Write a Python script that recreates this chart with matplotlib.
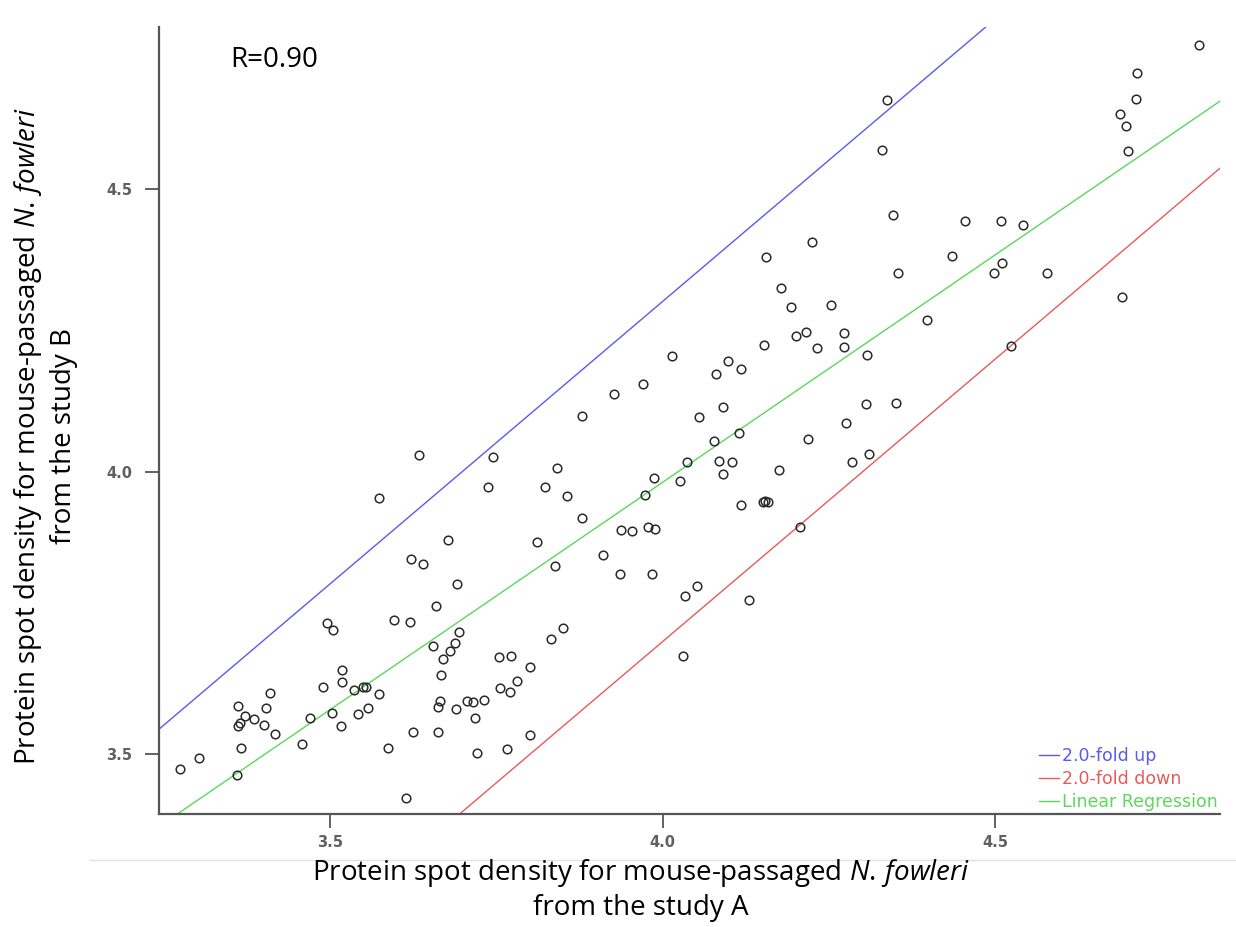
import numpy as np
import matplotlib
matplotlib.use('Agg')
import matplotlib.pyplot as plt
from matplotlib.lines import Line2D

plt.rcParams['mathtext.fontset'] = 'custom'
plt.rcParams['mathtext.rm'] = 'Open Sans'
plt.rcParams['mathtext.it'] = 'Open Sans:italic'

# Log10 protein spot densities (study A on x, study B on y)
study_a = [3.274, 3.303, 3.360, 3.366, 3.362, 3.372, 3.386, 3.362, 3.365, 3.401,
           3.404, 3.410, 3.417, 3.458, 3.470, 3.489, 3.495, 3.505, 3.518, 3.518,
           3.503, 3.517, 3.536, 3.550, 3.554, 3.542, 3.557, 3.574, 3.587, 3.596,
           3.620, 3.614, 3.625, 3.659, 3.655, 3.670, 3.667, 3.665, 3.662, 3.689,
           3.662, 3.691, 3.694, 3.688, 3.680, 3.718, 3.721, 3.732, 3.756, 3.771,
           3.754, 3.772, 3.781, 3.801, 3.766, 3.801, 3.832, 3.850, 3.706, 3.715,
           3.634, 3.574, 3.622, 3.640, 3.677, 3.745, 3.738, 3.823, 3.841, 3.856,
           3.879, 3.879, 3.811, 3.838, 3.911, 3.927, 3.971, 3.987, 3.974, 3.938,
           3.954, 3.978, 3.989, 3.936, 3.984, 4.031, 4.034, 4.052, 4.130, 4.207,
           4.014, 4.037, 4.026, 4.085, 4.105, 4.091, 4.118, 4.151, 4.159, 4.154,
           4.055, 4.091, 4.115, 4.077, 4.219, 4.175, 4.080, 4.098, 4.118, 4.153,
           4.201, 4.216, 4.273, 4.232, 4.273, 4.308, 4.178, 4.193, 4.253, 4.156,
           4.225, 4.306, 4.351, 4.276, 4.285, 4.311, 4.354, 4.435, 4.398, 4.347,
           4.330, 4.338, 4.455, 4.509, 4.542, 4.511, 4.498, 4.578, 4.524, 4.691,
           4.700, 4.697, 4.688, 4.712, 4.714, 4.807]
study_b = [3.473, 3.493, 3.463, 3.511, 3.585, 3.567, 3.562, 3.550, 3.555, 3.551,
           3.581, 3.608, 3.535, 3.518, 3.564, 3.619, 3.732, 3.719, 3.649, 3.627,
           3.573, 3.550, 3.613, 3.619, 3.619, 3.571, 3.581, 3.606, 3.511, 3.737,
           3.734, 3.422, 3.539, 3.762, 3.691, 3.668, 3.640, 3.594, 3.583, 3.580,
           3.539, 3.801, 3.716, 3.696, 3.682, 3.564, 3.502, 3.596, 3.617, 3.610,
           3.672, 3.673, 3.629, 3.654, 3.509, 3.534, 3.704, 3.723, 3.594, 3.592,
           4.029, 3.953, 3.845, 3.836, 3.879, 4.026, 3.973, 3.973, 4.006, 3.957,
           3.918, 4.098, 3.875, 3.833, 3.852, 4.137, 4.155, 3.988, 3.958, 3.896,
           3.895, 3.902, 3.898, 3.819, 3.819, 3.673, 3.780, 3.797, 3.773, 3.902,
           4.204, 4.017, 3.983, 4.019, 4.017, 3.996, 3.941, 3.946, 3.946, 3.948,
           4.096, 4.114, 4.068, 4.054, 4.058, 4.003, 4.173, 4.196, 4.181, 4.224,
           4.240, 4.247, 4.245, 4.219, 4.220, 4.206, 4.325, 4.291, 4.295, 4.380,
           4.406, 4.119, 4.121, 4.086, 4.017, 4.031, 4.351, 4.381, 4.268, 4.454,
           4.569, 4.658, 4.443, 4.443, 4.436, 4.369, 4.351, 4.351, 4.222, 4.309,
           4.567, 4.612, 4.633, 4.659, 4.705, 4.755]

fold_offset = np.log10(2.0)
reg_slope = 0.805
reg_intercept = 0.761
r_value = 0.90

xlim = (3.243, 4.838)
ylim = (3.394, 4.787)

c_up = '#5a5af0'
c_down = '#e85a5a'
c_reg = '#5ad85a'

fig = plt.figure(figsize=(12.36, 9.27), dpi=100)
ax = fig.add_axes([0.1286, 0.1219, 0.8584, 0.849])

xs = np.array(xlim)
ax.plot(xs, xs + fold_offset, color=c_up, lw=1.0)
ax.plot(xs, xs - fold_offset, color=c_down, lw=1.0)
ax.plot(xs, reg_intercept + reg_slope * xs, color=c_reg, lw=1.0)

ax.plot(study_a, study_b, 'o', ms=6.2, mfc='none', mec='#2a2a2a', mew=1.1)

ax.set_xlim(xlim)
ax.set_ylim(ylim)
ax.set_xticks([3.5, 4.0, 4.5])
ax.set_yticks([3.5, 4.0, 4.5])
ax.xaxis.set_major_formatter(matplotlib.ticker.FormatStrFormatter('%.1f'))
ax.yaxis.set_major_formatter(matplotlib.ticker.FormatStrFormatter('%.1f'))
ax.tick_params(direction='out', length=10, width=1.3, color='#555555',
               labelsize=10.5, labelcolor='#606060')
ax.tick_params(axis='x', pad=5)
ax.tick_params(axis='y', pad=9)
for lab in ax.get_xticklabels() + ax.get_yticklabels():
    lab.set_fontweight('bold')
for s in ['top', 'right']:
    ax.spines[s].set_visible(False)
for s in ['left', 'bottom']:
    ax.spines[s].set_color('#555555')
    ax.spines[s].set_linewidth(1.6)

ax.text(0.067, 0.958, f'R={r_value:.2f}', transform=ax.transAxes,
        fontsize=20, family='Open Sans', va='center', ha='left')

handles = [Line2D([], [], color=c_up, lw=1.0),
           Line2D([], [], color=c_down, lw=1.0),
           Line2D([], [], color=c_reg, lw=1.0)]
leg = ax.legend(handles, ['2.0-fold up', '2.0-fold down', 'Linear Regression'],
                loc='lower right', bbox_to_anchor=(1.0, 0.0), frameon=False,
                handlelength=1.15, handletextpad=0.15, labelspacing=0.3,
                borderpad=0.15, borderaxespad=0.0,
                prop={'family': 'DejaVu Sans', 'size': 12.5})
for txt, col in zip(leg.get_texts(), [c_up, c_down, c_reg]):
    txt.set_color(col)

label_line1 = r'Protein spot density for mouse-passaged $\mathit{N.\,fowleri}$'
fig.text(641 / 1236, 1 - 873 / 927, label_line1,
         ha='center', va='center', fontsize=20, family='Open Sans')
fig.text(641 / 1236, 1 - 908 / 927, 'from the study A',
         ha='center', va='center', fontsize=20, family='Open Sans')
fig.text(28 / 1236, 1 - 436 / 927, label_line1,
         ha='center', va='center', rotation=90, fontsize=20, family='Open Sans')
fig.text(64 / 1236, 1 - 436 / 927, 'from the study B',
         ha='center', va='center', rotation=90, fontsize=20, family='Open Sans')

# thin separator under the tick labels
fig.add_artist(Line2D([90 / 1236, 1.0], [1 - 860 / 927, 1 - 860 / 927],
                      color='#e2e2e2', lw=1.0))

fig.savefig('out.png', dpi=100)
